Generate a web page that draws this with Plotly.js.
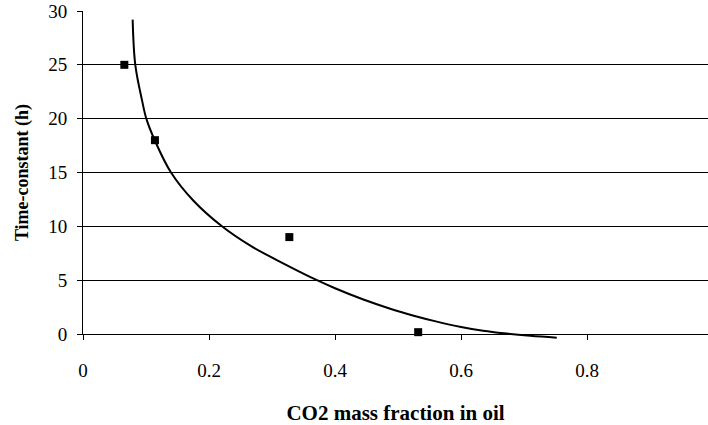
<!DOCTYPE html>
<html>
<head>
<meta charset="utf-8">
<script src="https://cdn.plot.ly/plotly-3.0.1.min.js"></script>
<style>html,body{margin:0;padding:0;background:#fff;}#chart{width:708px;height:425px;}</style>
</head>
<body>
<div id="chart"></div>
<script>
// Measured data points
const pointsX = [0.0656, 0.1142, 0.3275, 0.532];
const pointsY = [25.0, 18.0, 9.0, 0.17];
// Trend curve
const curveX = [0.0788, 0.083, 0.0937, 0.1005, 0.1142, 0.1397, 0.175, 0.2206, 0.2656, 0.32, 0.3714, 0.40, 0.445, 0.49, 0.525, 0.56, 0.60, 0.635, 0.668, 0.71, 0.752];
const curveY = [29.2, 25.0, 21.7, 20.0, 17.95, 15.0, 12.4, 10.0, 8.2, 6.5, 5.0, 4.25, 3.2, 2.3, 1.7, 1.17, 0.65, 0.3, 0.06, -0.17, -0.35];
const xTickVals = [0, 0.2, 0.4, 0.6, 0.8];
const xTickText = ["0", "0.2", "0.4", "0.6", "0.8"];
const yTickVals = [0, 5, 10, 15, 20, 25, 30];

const W = 708, H = 425;
const mT = 11, mB = 85, mL = 83, mR = 0;
const plotH = H - mT - mB;
const extra = 6;
const mainH = plotH - extra;
const yLow = -extra * 30 / mainH;
const xMax = 0.992;
const font = "'Liberation Serif', 'Times New Roman', 'DejaVu Serif', serif";

const traces = [
  {
    x: pointsX, y: pointsY, type: 'scatter', mode: 'markers',
    marker: {symbol: 'square', size: 8, color: '#000'},
    xaxis: 'x', yaxis: 'y', cliponaxis: false, showlegend: false, hoverinfo: 'skip'
  },
  {
    x: curveX, y: curveY, type: 'scatter', mode: 'lines',
    line: {color: '#000', width: 2, shape: 'spline', smoothing: 1},
    xaxis: 'x2', yaxis: 'y2', showlegend: false, hoverinfo: 'skip'
  }
];

const layout = {
  width: W, height: H,
  margin: {l: mL, r: mR, t: mT, b: mB, pad: 0},
  paper_bgcolor: '#fff', plot_bgcolor: 'rgba(0,0,0,0)',
  font: {family: font, color: '#000', size: 19},
  showlegend: false,
  xaxis: {
    domain: [0, 1], anchor: 'y', range: [0, xMax],
    tickvals: xTickVals, ticktext: xTickText,
    ticks: 'outside', ticklen: 5, tickwidth: 1, tickcolor: '#000',
    ticklabelstandoff: 14,
    showline: true, linecolor: '#000', linewidth: 1,
    showgrid: false, zeroline: false,
    tickfont: {family: font, size: 19, color: '#000'},
    title: {text: '<b>CO2 mass fraction in oil</b>', font: {family: font, size: 21, color: '#000'}, standoff: 30}
  },
  yaxis: {
    domain: [extra / plotH, 1], anchor: 'x', range: [0, 30],
    tickvals: yTickVals,
    ticks: 'outside', ticklen: 5, tickwidth: 1, tickcolor: '#000',
    ticklabelstandoff: 6,
    showline: true, linecolor: '#000', linewidth: 1,
    showgrid: true, gridcolor: '#000', gridwidth: 1, zeroline: false,
    tickfont: {family: font, size: 19, color: '#000'},
    title: {text: '<b>Time-constant (h)</b>', font: {family: font, size: 18, color: '#000'}, standoff: 14}
  },
  xaxis2: {domain: [0, 1], anchor: 'y2', range: [0, xMax], visible: false, fixedrange: true},
  yaxis2: {domain: [0, 1], anchor: 'x2', range: [yLow, 30], visible: false, fixedrange: true}
};

Plotly.newPlot('chart', traces, layout, {staticPlot: true, displayModeBar: false});
</script>
</body>
</html>
